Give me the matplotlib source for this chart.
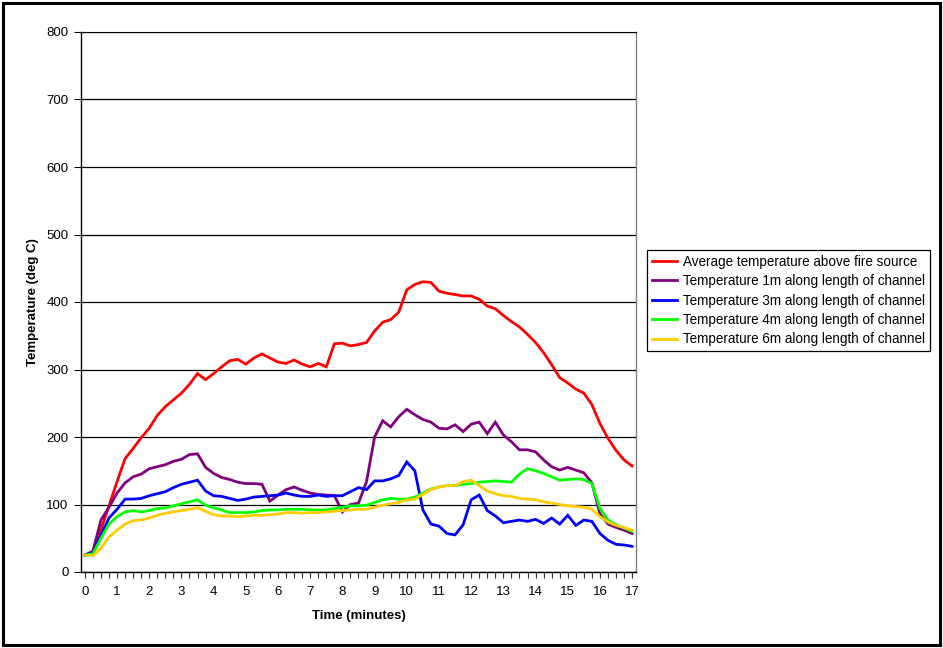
import matplotlib
matplotlib.use("Agg")
import matplotlib.pyplot as plt
import numpy as np
from matplotlib.patches import Rectangle
from matplotlib.ticker import MultipleLocator

plt.rcParams['font.family'] = ['Liberation Sans', 'DejaVu Sans']

# time in minutes, one reading every 15 s
time_min = [i * 0.25 for i in range(69)]

avg_fire = [25, 28, 63, 98, 134, 168, 183, 199, 213, 232, 245, 255, 265, 278, 294, 285,
            294, 304, 313, 315, 308, 317, 323, 317, 311, 309, 314, 308, 304, 309, 304, 338,
            339, 335, 337, 340, 357, 370, 374, 385, 418, 426, 430, 429, 416, 413, 411, 409,
            409, 404, 394, 390, 380, 371, 363, 352, 340, 325, 307, 288, 280, 271, 265, 248,
            220, 198, 180, 166, 157]

t_1m = [25, 31, 77, 96, 117, 132, 141, 145, 153, 156, 159, 164, 167, 174, 175, 155,
        146, 140, 137, 133, 131, 131, 130, 105, 114, 122, 126, 121, 117, 115, 114, 113,
        89, 100, 102, 134, 200, 224, 215, 230, 241, 233, 226, 222, 213, 212, 218, 208,
        219, 222, 205, 222, 203, 193, 181, 181, 178, 166, 156, 151, 155, 151, 147, 132,
        86, 71, 66, 62, 57]

t_3m = [25, 28, 55, 80, 93, 108, 108, 109, 113, 116, 119, 125, 130, 133, 136, 120,
        113, 112, 109, 106, 108, 111, 112, 113, 114, 117, 114, 112, 112, 114, 112, 113,
        113, 119, 125, 122, 135, 135, 138, 143, 163, 150, 92, 71, 68, 57, 55, 70,
        107, 114, 91, 83, 73, 75, 77, 75, 78, 72, 80, 71, 84, 69, 77, 75,
        57, 47, 41, 40, 38]

t_4m = [25, 27, 50, 71, 82, 89, 91, 89, 91, 94, 95, 98, 101, 104, 107, 99,
        95, 92, 88, 88, 88, 89, 91, 92, 92, 93, 93, 93, 92, 92, 92, 94,
        96, 98, 98, 99, 103, 107, 109, 108, 108, 111, 117, 123, 126, 128, 128, 130,
        131, 133, 134, 135, 134, 133, 145, 153, 150, 146, 141, 136, 137, 138, 137, 131,
        94, 77, 70, 65, 60]

t_6m = [25, 24, 35, 52, 62, 71, 76, 77, 80, 84, 87, 89, 91, 93, 95, 90,
        85, 83, 83, 82, 83, 84, 84, 85, 86, 88, 88, 87, 88, 88, 89, 90,
        91, 92, 93, 93, 96, 99, 101, 103, 107, 108, 115, 122, 126, 128, 128, 134,
        136, 128, 120, 116, 113, 112, 109, 108, 107, 104, 102, 100, 98, 97, 96, 93,
        82, 74, 69, 66, 62]

series = [
    (avg_fire, "Average temperature above fire source", "#FF0000"),
    (t_1m, "Temperature 1m along length of channel", "#800080"),
    (t_3m, "Temperature 3m along length of channel", "#0000FF"),
    (t_4m, "Temperature 4m along length of channel", "#00FF00"),
    (t_6m, "Temperature 6m along length of channel", "#FFCC00"),
]

W, H = 943, 648
fig = plt.figure(figsize=(W / 100, H / 100), dpi=100)
L, R, T, B = 81, 636, 32, 572
ax = fig.add_axes([L / W, 1 - B / H, (R - L) / W, (B - T) / H])

for vals, lab, col in series:
    ax.plot(time_min, vals, color=col, lw=2.0, label=lab, solid_joinstyle='miter')

ax.set_xlim(-0.12, 17.12)
ax.set_ylim(0, 800)
ax.set_yticks(range(0, 801, 100))
ax.set_xticks(range(0, 18))
ax.xaxis.set_minor_locator(MultipleLocator(0.25))
ax.yaxis.grid(True, color='black', lw=0.9)
ax.set_axisbelow(True)

ax.tick_params(axis='x', which='both', direction='out', length=4, width=0.8,
               labelsize=9.5, pad=6, color='#333333')
ax.tick_params(axis='y', which='major', direction='out', length=5, width=0.8,
               labelsize=9.5, pad=4)

for s in ['left', 'bottom']:
    ax.spines[s].set_color('black')
    ax.spines[s].set_linewidth(1.0)
ax.spines['right'].set_color('#808080')
ax.spines['top'].set_color('black')
ax.spines['right'].set_linewidth(1.0)

ax.set_xlabel("Time (minutes)", fontsize=9.5, fontweight='bold', labelpad=9)
ax.set_ylabel("Temperature (deg C)", fontsize=9.5, fontweight='bold', labelpad=5)

leg = ax.legend(loc='upper left', bbox_to_anchor=(647 / W, 1 - 250 / H),
                bbox_transform=fig.transFigure, fontsize=9.75, frameon=True,
                fancybox=False, edgecolor='black', framealpha=1,
                handlelength=1.9, handletextpad=0.4, labelspacing=0.4,
                borderpad=0.35, borderaxespad=0)
leg.get_frame().set_linewidth(0.9)

fig.patches.append(Rectangle((3 / W, 3 / H), (W - 6) / W, (H - 6) / H,
                             transform=fig.transFigure, fill=False,
                             edgecolor='black', lw=2.2))

fig.savefig("out.png", dpi=100)
